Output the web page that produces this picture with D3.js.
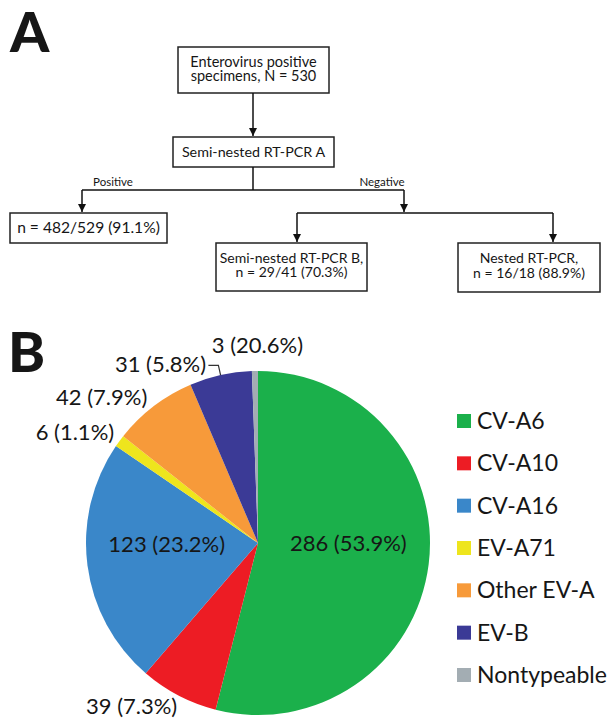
<!DOCTYPE html>
<html><head><meta charset="utf-8">
<script src="https://cdn.jsdelivr.net/npm/d3@7"></script>
<style>
body{margin:0;background:#fff}
svg{display:block}
text{font-family:Lato,"Open Sans","Liberation Sans",sans-serif;fill:#161616}
</style>
</head><body>
<svg id="chart" width="608" height="719"></svg>
<script>
// ---------- data ----------
const categories = ["CV-A6","CV-A10","CV-A16","EV-A71","Other EV-A","EV-B","Nontypeable"];
const counts = [286,39,123,6,42,31,3];
const sliceLabels = ["286 (53.9%)","39 (7.3%)","123 (23.2%)","6 (1.1%)","42 (7.9%)","31 (5.8%)","3 (20.6%)"];
const colors = ["#1bb04b","#ed1c24","#3a87c9","#eee51d","#f79a3a","#3b3a96","#a3adb3"];

const flowTexts = [
  ["Enterovirus positive","specimens, N = 530"],
  ["Semi-nested RT-PCR A"],
  ["n = 482/529 (91.1%)"],
  ["Semi-nested RT-PCR B,","n = 29/41 (70.3%)"],
  ["Nested RT-PCR,","n = 16/18 (88.9%)"]
];
const branchLabels = ["Positive","Negative"];
const panelLabels = ["A","B"];

// ---------- layout ----------
const svg = d3.select("#chart");

// panel letters
svg.append("text").attr("x",10).attr("y",52).attr("font-size",56).attr("font-weight",900).text(panelLabels[0]);
svg.append("text").attr("x",8).attr("y",372).attr("font-size",56).attr("font-weight",900).text(panelLabels[1]);

// flowchart boxes [x,y,w,h]
const boxes = [[178,47,151,46],[173,137,161,30],[10,213,157,30],[216,243,151,48],[458,243,142,49]];
const boxFont = [14.5,14.3,15.6,14,14];
const boxShift = [-1,0,0,-2,-2];
const lineH = 14.5;
const fg = svg.append("g");
boxes.forEach((b,i)=>{
  fg.append("rect").attr("x",b[0]).attr("y",b[1]).attr("width",b[2]).attr("height",b[3])
    .attr("fill","#fff").attr("stroke","#222").attr("stroke-width",1.5);
  const lines = flowTexts[i];
  const cy = b[1]+b[3]/2+boxShift[i];
  lines.forEach((t,j)=>{
    fg.append("text").attr("x",b[0]+b[2]/2)
      .attr("y",cy + (j-(lines.length-1)/2)*lineH)
      .attr("dy","0.35em").attr("text-anchor","middle").attr("font-size",boxFont[i]).text(t);
  });
});

// arrow marker
const defs = svg.append("defs");
defs.append("marker").attr("id","ah").attr("viewBox","0 0 10 10").attr("refX",10).attr("refY",5)
  .attr("markerWidth",5.5).attr("markerHeight",5.5).attr("markerUnits","strokeWidth").attr("orient","auto")
  .append("path").attr("d","M0,0L10,5L0,10Z").attr("fill","#111");

const segs = [
  {p:[[253,93],[253,136]],a:true},
  {p:[[253,167],[253,190]],a:false},
  {p:[[82,190],[404,190]],a:false},
  {p:[[82,190],[82,212]],a:true},
  {p:[[404,190],[404,212]],a:true},
  {p:[[297,213],[553,213]],a:false},
  {p:[[297,213],[297,242]],a:true},
  {p:[[553,213],[553,242]],a:true}
];
const line = d3.line();
segs.forEach(s=>{
  fg.append("path").attr("d",line(s.p)).attr("fill","none").attr("stroke","#111").attr("stroke-width",1.5)
    .attr("marker-end", s.a ? "url(#ah)" : null);
});
fg.append("text").attr("x",113).attr("y",186).attr("text-anchor","middle").attr("font-size",11.5).text(branchLabels[0]);
fg.append("text").attr("x",382).attr("y",186).attr("text-anchor","middle").attr("font-size",11.5).text(branchLabels[1]);

// ---------- pie ----------
const cx = 258, cy = 543, R = 172;
const pie = d3.pie().sort(null).value(d=>d)(counts);
const arc = d3.arc().innerRadius(0).outerRadius(R);
const color = d3.scaleOrdinal().domain(categories).range(colors);
const pg = svg.append("g").attr("transform",`translate(${cx},${cy})`);
pg.selectAll("path.slice").data(pie).join("path").attr("class","slice")
  .attr("d",arc).attr("fill",(d,i)=>color(categories[i]));

// label placement: radius of anchor and small nudges
const labelR = [86,200,86,200,200,200,200];
const labelNudge = [[5,-10],[-34,-14],[-6,-10],[-22,8],[-35,13],[-54,16],[3,2]];
pie.forEach((d,i)=>{
  const a = d3.arc().innerRadius(labelR[i]).outerRadius(labelR[i]);
  const c = a.centroid(d);
  pg.append("text").attr("x",c[0]+labelNudge[i][0]).attr("y",c[1]+labelNudge[i][1])
    .attr("dy","0.35em").attr("text-anchor","middle").attr("font-size",22).text(sliceLabels[i]);
});
// leader line for EV-B
{
  const d = pie[5];
  const p0 = d3.arc().innerRadius(R).outerRadius(R).centroid(d);
  const p1 = d3.arc().innerRadius(R+10).outerRadius(R+10).centroid(d);
  pg.append("path").attr("d",line([p0,p1,[p1[0]-10,p1[1]]])).attr("fill","none")
    .attr("stroke","#333").attr("stroke-width",1.2);
}

// ---------- legend ----------
const ly = d3.scalePoint().domain(categories).range([421,675]);
const lg = svg.append("g");
categories.forEach(c=>{
  lg.append("rect").attr("x",457).attr("y",ly(c)-7).attr("width",14).attr("height",14).attr("fill",color(c));
  lg.append("text").attr("x",477).attr("y",ly(c)).attr("dy","0.35em").attr("font-size",23).text(c);
});
</script>
</body></html>
